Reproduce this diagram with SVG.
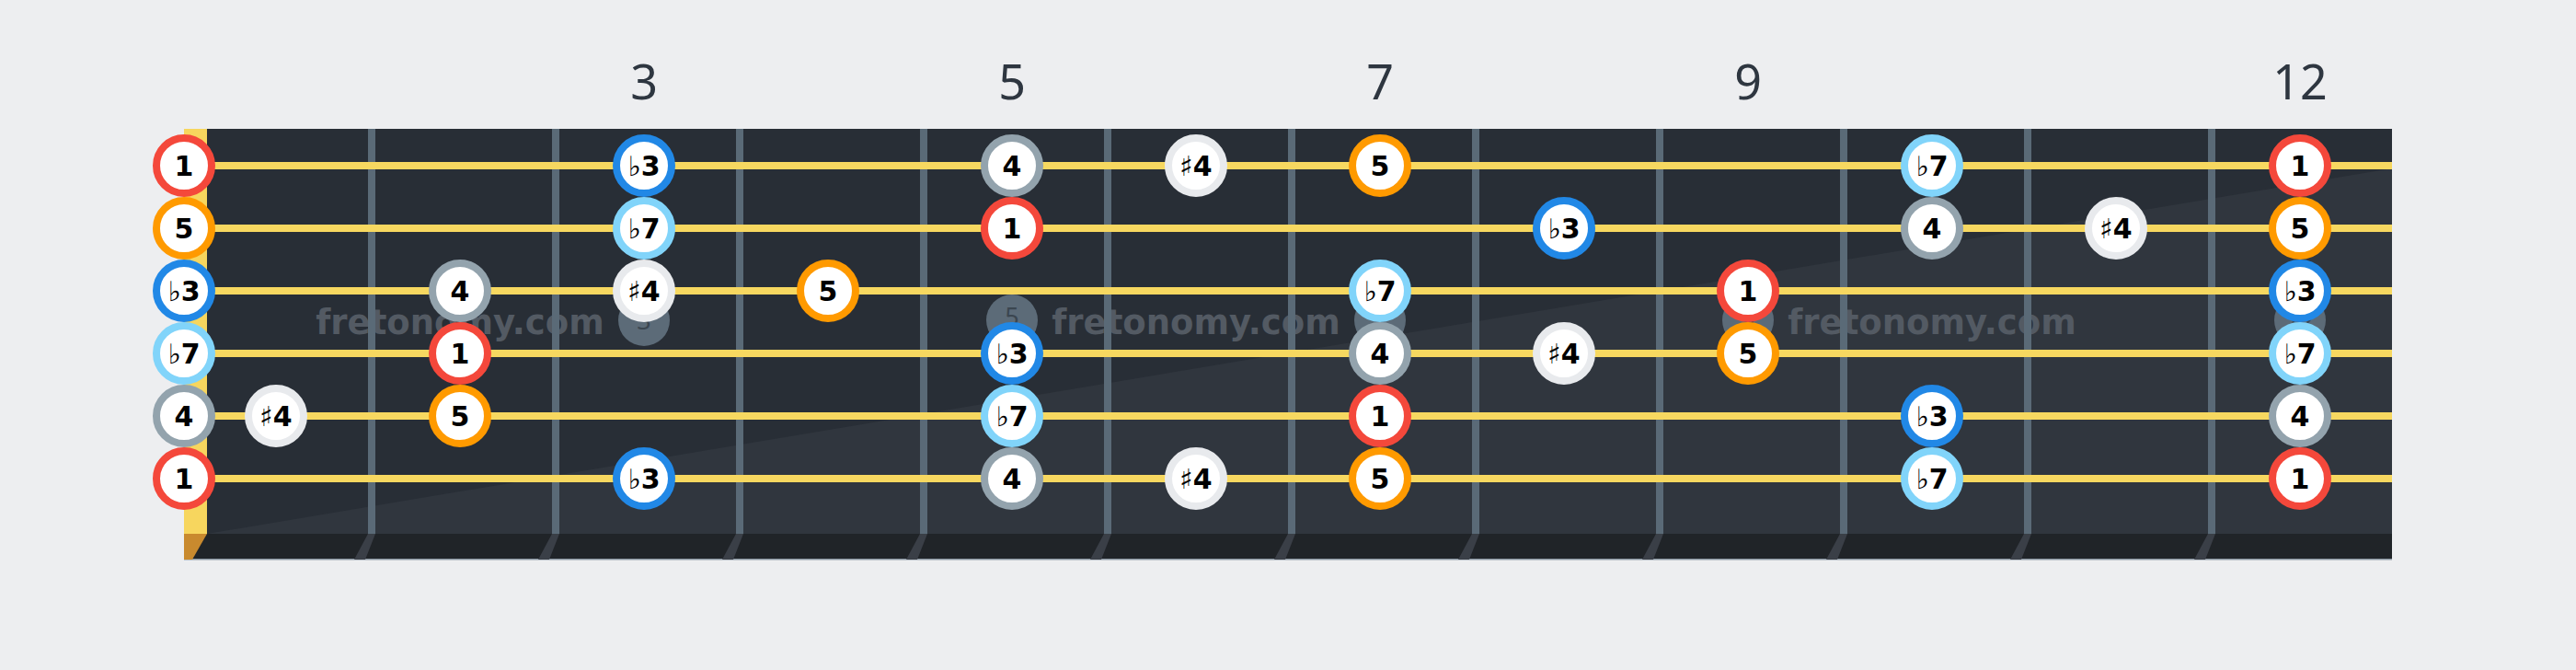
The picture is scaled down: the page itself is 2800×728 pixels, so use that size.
<svg xmlns="http://www.w3.org/2000/svg" width="2800" height="728" viewBox="0 0 2800 728">
<style>
.fretnum{font-family:"Noto Sans","Open Sans",sans-serif;font-size:52px;fill:#2e3640;text-anchor:middle}
.wm{font-family:"DejaVu Sans",sans-serif;font-weight:bold;font-size:37px;fill:#535a63;text-anchor:middle}
.dot{fill:#5c6b78}
.dotlbl{font-family:"Noto Sans",sans-serif;font-size:27px;fill:#3b4650;text-anchor:middle}
.fret{fill:#5a6a77}
.str{fill:#f7d860}
.fretfoot{fill:#3a3f47}
.note circle{fill:#ffffff;stroke-width:8}
.note text{font-family:"DejaVu Sans",sans-serif;font-weight:bold;font-size:30px;fill:#000000;text-anchor:middle}
.note tspan.acc{font-weight:normal}
.r1 circle{stroke:#f4483b}
.r5 circle{stroke:#ff9a00}
.rb3 circle{stroke:#2188e6}
.rb7 circle{stroke:#81d4fa}
.r4 circle{stroke:#93a3ad}
.rs4 circle{stroke:#e8eaed}
</style>
<rect x="0" y="0" width="2800" height="728" fill="#edeef0"/>
<g id="fret-numbers">
<text class="fretnum" x="700" y="108">3</text>
<text class="fretnum" x="1100" y="108">5</text>
<text class="fretnum" x="1500" y="108">7</text>
<text class="fretnum" x="1900" y="108">9</text>
<text class="fretnum" x="2500" y="108">12</text>
</g>
<g id="fretboard">
<rect x="225" y="140" width="2375" height="440" fill="#282e36"/>
<polygon points="225,580 2600,183 2600,580" fill="#30363e"/>
<rect x="200" y="140" width="25" height="440" fill="#f7d65e"/>
<rect x="200" y="580" width="2400" height="28" fill="#202428"/>
<rect x="200" y="607" width="2400" height="1.5" fill="#8c98a4"/>
<polygon points="200,580 225,580 209,608 200,608" fill="#c98a2e"/>
<g id="fret-feet">
<polygon class="fretfoot" points="400,580 408,580 397,608 385,608"/>
<polygon class="fretfoot" points="600,580 608,580 597,608 585,608"/>
<polygon class="fretfoot" points="800,580 808,580 797,608 785,608"/>
<polygon class="fretfoot" points="1000,580 1008,580 997,608 985,608"/>
<polygon class="fretfoot" points="1200,580 1208,580 1197,608 1185,608"/>
<polygon class="fretfoot" points="1400,580 1408,580 1397,608 1385,608"/>
<polygon class="fretfoot" points="1600,580 1608,580 1597,608 1585,608"/>
<polygon class="fretfoot" points="1800,580 1808,580 1797,608 1785,608"/>
<polygon class="fretfoot" points="2000,580 2008,580 1997,608 1985,608"/>
<polygon class="fretfoot" points="2200,580 2208,580 2197,608 2185,608"/>
<polygon class="fretfoot" points="2400,580 2408,580 2397,608 2385,608"/>
</g>
</g>
<g id="watermarks">
<text class="wm" x="500" y="363">fretonomy.com</text>
<text class="wm" x="1300" y="363">fretonomy.com</text>
<text class="wm" x="2100" y="363">fretonomy.com</text>
</g>
<g id="frets">
<rect class="fret" x="400" y="140" width="8" height="440"/>
<rect class="fret" x="600" y="140" width="8" height="440"/>
<rect class="fret" x="800" y="140" width="8" height="440"/>
<rect class="fret" x="1000" y="140" width="8" height="440"/>
<rect class="fret" x="1200" y="140" width="8" height="440"/>
<rect class="fret" x="1400" y="140" width="8" height="440"/>
<rect class="fret" x="1600" y="140" width="8" height="440"/>
<rect class="fret" x="1800" y="140" width="8" height="440"/>
<rect class="fret" x="2000" y="140" width="8" height="440"/>
<rect class="fret" x="2200" y="140" width="8" height="440"/>
<rect class="fret" x="2400" y="140" width="8" height="440"/>
</g>
<g id="inlays">
<circle class="dot" cx="700" cy="348" r="28"/><text class="dotlbl" x="700" y="358">3</text>
<circle class="dot" cx="1100" cy="348" r="28"/><text class="dotlbl" x="1100" y="354">5</text>
<circle class="dot" cx="1500" cy="348" r="28"/><text class="dotlbl" x="1500" y="358">7</text>
<circle class="dot" cx="1900" cy="348" r="28"/><text class="dotlbl" x="1900" y="358">9</text>
<circle class="dot" cx="2500" cy="348" r="28"/><text class="dotlbl" x="2500" y="358">12</text>
</g>
<g id="strings">
<rect class="str" x="200" y="176" width="2400" height="8"/>
<rect class="str" x="200" y="244" width="2400" height="8"/>
<rect class="str" x="200" y="312" width="2400" height="8"/>
<rect class="str" x="200" y="380" width="2400" height="8"/>
<rect class="str" x="200" y="448" width="2400" height="8"/>
<rect class="str" x="200" y="516" width="2400" height="8"/>
</g>
<g id="notes">
<g id="s1-f0" class="note r1"><circle cx="200" cy="180" r="30"/><text x="200" y="191">1</text></g>
<g id="s1-f3" class="note rb3"><circle cx="700" cy="180" r="30"/><text x="700" y="191"><tspan class="acc">♭</tspan>3</text></g>
<g id="s1-f5" class="note r4"><circle cx="1100" cy="180" r="30"/><text x="1100" y="191">4</text></g>
<g id="s1-f6" class="note rs4"><circle cx="1300" cy="180" r="30"/><text x="1300" y="191"><tspan class="acc">♯</tspan>4</text></g>
<g id="s1-f7" class="note r5"><circle cx="1500" cy="180" r="30"/><text x="1500" y="191">5</text></g>
<g id="s1-f10" class="note rb7"><circle cx="2100" cy="180" r="30"/><text x="2100" y="191"><tspan class="acc">♭</tspan>7</text></g>
<g id="s1-f12" class="note r1"><circle cx="2500" cy="180" r="30"/><text x="2500" y="191">1</text></g>
<g id="s2-f0" class="note r5"><circle cx="200" cy="248" r="30"/><text x="200" y="259">5</text></g>
<g id="s2-f3" class="note rb7"><circle cx="700" cy="248" r="30"/><text x="700" y="259"><tspan class="acc">♭</tspan>7</text></g>
<g id="s2-f5" class="note r1"><circle cx="1100" cy="248" r="30"/><text x="1100" y="259">1</text></g>
<g id="s2-f8" class="note rb3"><circle cx="1700" cy="248" r="30"/><text x="1700" y="259"><tspan class="acc">♭</tspan>3</text></g>
<g id="s2-f10" class="note r4"><circle cx="2100" cy="248" r="30"/><text x="2100" y="259">4</text></g>
<g id="s2-f11" class="note rs4"><circle cx="2300" cy="248" r="30"/><text x="2300" y="259"><tspan class="acc">♯</tspan>4</text></g>
<g id="s2-f12" class="note r5"><circle cx="2500" cy="248" r="30"/><text x="2500" y="259">5</text></g>
<g id="s3-f0" class="note rb3"><circle cx="200" cy="316" r="30"/><text x="200" y="327"><tspan class="acc">♭</tspan>3</text></g>
<g id="s3-f2" class="note r4"><circle cx="500" cy="316" r="30"/><text x="500" y="327">4</text></g>
<g id="s3-f3" class="note rs4"><circle cx="700" cy="316" r="30"/><text x="700" y="327"><tspan class="acc">♯</tspan>4</text></g>
<g id="s3-f4" class="note r5"><circle cx="900" cy="316" r="30"/><text x="900" y="327">5</text></g>
<g id="s3-f7" class="note rb7"><circle cx="1500" cy="316" r="30"/><text x="1500" y="327"><tspan class="acc">♭</tspan>7</text></g>
<g id="s3-f9" class="note r1"><circle cx="1900" cy="316" r="30"/><text x="1900" y="327">1</text></g>
<g id="s3-f12" class="note rb3"><circle cx="2500" cy="316" r="30"/><text x="2500" y="327"><tspan class="acc">♭</tspan>3</text></g>
<g id="s4-f0" class="note rb7"><circle cx="200" cy="384" r="30"/><text x="200" y="395"><tspan class="acc">♭</tspan>7</text></g>
<g id="s4-f2" class="note r1"><circle cx="500" cy="384" r="30"/><text x="500" y="395">1</text></g>
<g id="s4-f5" class="note rb3"><circle cx="1100" cy="384" r="30"/><text x="1100" y="395"><tspan class="acc">♭</tspan>3</text></g>
<g id="s4-f7" class="note r4"><circle cx="1500" cy="384" r="30"/><text x="1500" y="395">4</text></g>
<g id="s4-f8" class="note rs4"><circle cx="1700" cy="384" r="30"/><text x="1700" y="395"><tspan class="acc">♯</tspan>4</text></g>
<g id="s4-f9" class="note r5"><circle cx="1900" cy="384" r="30"/><text x="1900" y="395">5</text></g>
<g id="s4-f12" class="note rb7"><circle cx="2500" cy="384" r="30"/><text x="2500" y="395"><tspan class="acc">♭</tspan>7</text></g>
<g id="s5-f0" class="note r4"><circle cx="200" cy="452" r="30"/><text x="200" y="463">4</text></g>
<g id="s5-f1" class="note rs4"><circle cx="300" cy="452" r="30"/><text x="300" y="463"><tspan class="acc">♯</tspan>4</text></g>
<g id="s5-f2" class="note r5"><circle cx="500" cy="452" r="30"/><text x="500" y="463">5</text></g>
<g id="s5-f5" class="note rb7"><circle cx="1100" cy="452" r="30"/><text x="1100" y="463"><tspan class="acc">♭</tspan>7</text></g>
<g id="s5-f7" class="note r1"><circle cx="1500" cy="452" r="30"/><text x="1500" y="463">1</text></g>
<g id="s5-f10" class="note rb3"><circle cx="2100" cy="452" r="30"/><text x="2100" y="463"><tspan class="acc">♭</tspan>3</text></g>
<g id="s5-f12" class="note r4"><circle cx="2500" cy="452" r="30"/><text x="2500" y="463">4</text></g>
<g id="s6-f0" class="note r1"><circle cx="200" cy="520" r="30"/><text x="200" y="531">1</text></g>
<g id="s6-f3" class="note rb3"><circle cx="700" cy="520" r="30"/><text x="700" y="531"><tspan class="acc">♭</tspan>3</text></g>
<g id="s6-f5" class="note r4"><circle cx="1100" cy="520" r="30"/><text x="1100" y="531">4</text></g>
<g id="s6-f6" class="note rs4"><circle cx="1300" cy="520" r="30"/><text x="1300" y="531"><tspan class="acc">♯</tspan>4</text></g>
<g id="s6-f7" class="note r5"><circle cx="1500" cy="520" r="30"/><text x="1500" y="531">5</text></g>
<g id="s6-f10" class="note rb7"><circle cx="2100" cy="520" r="30"/><text x="2100" y="531"><tspan class="acc">♭</tspan>7</text></g>
<g id="s6-f12" class="note r1"><circle cx="2500" cy="520" r="30"/><text x="2500" y="531">1</text></g>
</g>
</svg>
